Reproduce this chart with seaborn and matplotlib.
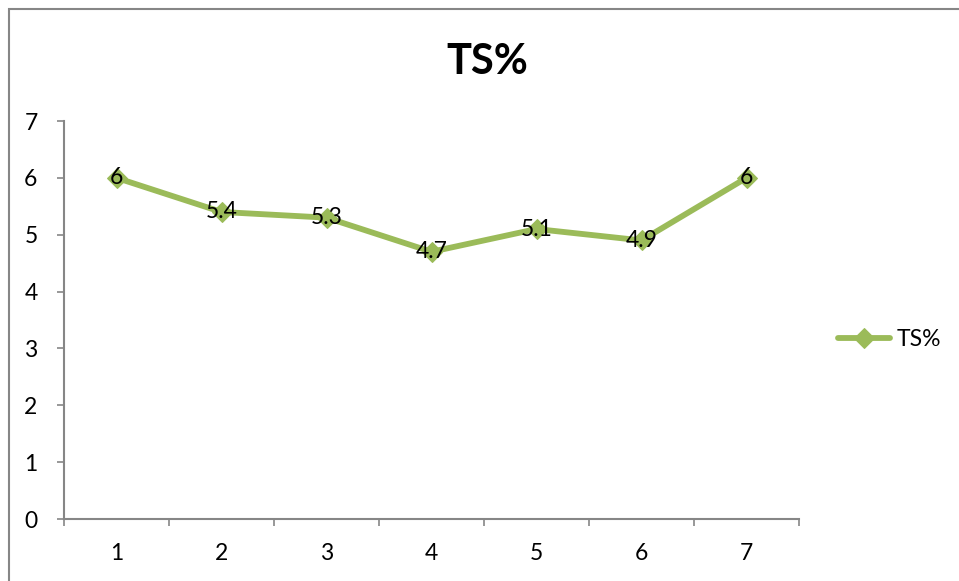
import numpy as np
import pandas as pd
import seaborn as sns
import matplotlib.pyplot as plt
from matplotlib.patches import Rectangle
from matplotlib.ticker import FixedLocator

# chart data
categories = ['1', '2', '3', '4', '5', '6', '7']
ts_values = [6, 5.4, 5.3, 4.7, 5.1, 4.9, 6]
series_name = 'TS%'

df = pd.DataFrame({'pos': np.arange(len(categories)), 'value': ts_values})

sns.set_style('white')
plt.rcParams['font.family'] = ['Lato', 'DejaVu Sans']
plt.rcParams['text.color'] = 'black'
plt.rcParams['xtick.color'] = 'black'
plt.rcParams['ytick.color'] = 'black'

green = '#9BBB59'
axis_grey = '#868686'
fs = 16.5

fig = plt.figure(figsize=(9.59, 5.81), dpi=100)
ax = fig.add_axes([64 / 959, 62 / 581, 735 / 959, 398 / 581])

sns.lineplot(data=df, x='pos', y='value', ax=ax, color=green, linewidth=4.2,
             marker='D', markersize=10, markeredgecolor=green, label=series_name)

# data labels centred on points
for x, y in zip(df['pos'], df['value']):
    ax.text(x, y, f'{y:g}', ha='center', va='center', fontsize=fs, color='black')

ax.set_xlim(-0.5, len(categories) - 0.5)
ax.set_ylim(0, 7)
ax.set_yticks(range(0, 8))
ax.set_xticks(df['pos'])
ax.set_xticklabels(categories)
ax.xaxis.set_minor_locator(FixedLocator(np.arange(-0.5, len(categories), 1)))
ax.tick_params(axis='x', which='major', length=0, pad=17, labelsize=fs)
ax.tick_params(axis='x', which='minor', length=5, width=1.2, color=axis_grey, direction='out', bottom=True)
ax.tick_params(axis='y', length=5, width=1.2, color=axis_grey, direction='out', left=True, pad=14, labelsize=fs)
ax.set_xlabel('')
ax.set_ylabel('')

for side in ['top', 'right']:
    ax.spines[side].set_visible(False)
for side in ['left', 'bottom']:
    ax.spines[side].set_color(axis_grey)
    ax.spines[side].set_linewidth(1.5)

ax.get_legend().remove()

fig.text(487 / 959, 1 - 62 / 581, series_name, ha='center', va='center',
         fontsize=30, fontweight='bold', color='black')

fig.legend(loc='center left', bbox_to_anchor=(838 / 959, 1 - 340 / 581), frameon=False,
           fontsize=fs, handlelength=2.25, handletextpad=0.3,
           borderpad=0, borderaxespad=0)

# outer chart border (cut at right and bottom)
fig.patches.append(Rectangle((9 / 959, -0.1), 1.2, (581 - 9) / 581 + 0.1,
                             transform=fig.transFigure, fill=False,
                             edgecolor=axis_grey, linewidth=1.5))

fig.savefig('out.png', dpi=100)
